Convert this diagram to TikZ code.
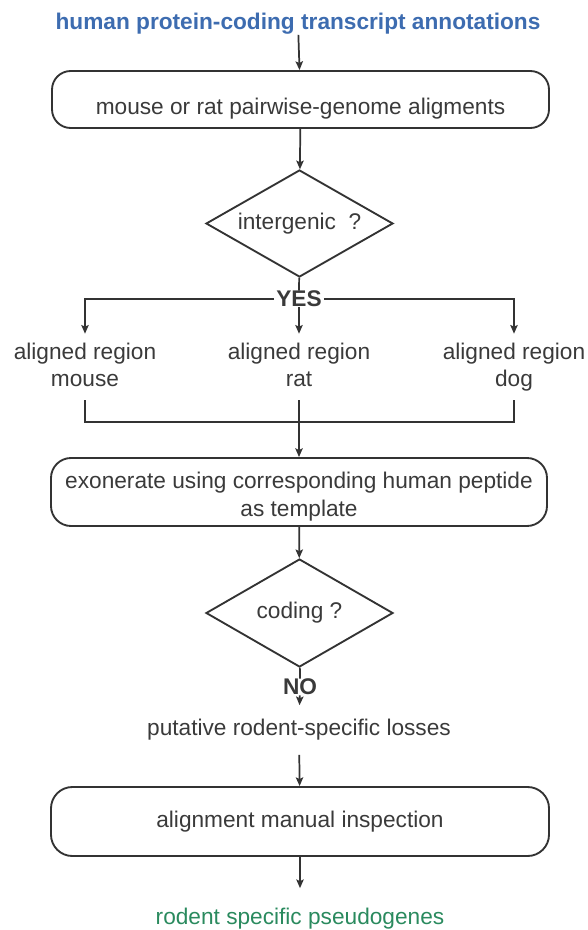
\documentclass[tikz,border=0pt]{standalone}
\usepackage{fontspec}
\setmainfont{Liberation Sans}
\usetikzlibrary{shapes.geometric,arrows.meta}

\definecolor{txtgray}{HTML}{3A3A3A}
\definecolor{linegray}{HTML}{333333}
\definecolor{titleblue}{HTML}{3D6CB0}
\definecolor{endgreen}{HTML}{2A8A5E}

\tikzset{
  every node/.style={font=\fontsize{17}{20}\selectfont, text=txtgray},
  plaintext/.style={inner sep=0pt, align=center},
  boldtext/.style={inner sep=0pt, inner xsep=1.5pt, font=\fontsize{17}{20}\selectfont\bfseries},
  box/.style={draw=linegray, line width=1.4pt, rounded corners=14pt, inner sep=0pt, align=center},
  decision/.style={draw=linegray, line width=1.4pt, diamond, aspect=1.75, inner sep=0pt},
  link/.style={draw=linegray, line width=1.3pt},
  flow/.style={link, -{Stealth[length=6.5pt,width=5.5pt,inset=1.2pt]}},
}

\begin{document}
\begin{tikzpicture}[x=0.75pt,y=0.75pt,yscale=-1,xscale=1]
\path[use as bounding box] (0,0) rectangle (587,930);

% Text Node
\draw (298,24) node [boldtext, text=titleblue] (annot) {human protein-coding transcript annotations};
%Shape: Rounded Rectangle [pairwise]
\draw (300.5,99.5) node [box, minimum width=372.75pt, minimum height=42.75pt, text height=22pt, text depth=0pt] (pairwise) {mouse or rat pairwise-genome aligments};
%Shape: Diamond [intergenic]
\draw (299.5,223.5) node [decision, minimum width=140.25pt, minimum height=80.25pt] (intergenic) {intergenic\ \ ?};
% Text Node
\draw (299,299) node [boldtext] (yes) {YES};

% Text Node
\draw (85,367) node [plaintext, minimum height=49.5pt] (mouse) {aligned region\\mouse\vphantom{g}};
% Text Node
\draw (299,367) node [plaintext, minimum height=49.5pt] (rat) {aligned region\\rat\vphantom{g}};
% Text Node
\draw (514,367) node [plaintext, minimum height=49.5pt] (dog) {aligned region\\dog};
\coordinate (merge) at (299,422);

%Shape: Rounded Rectangle [exonerate]
\draw (299,492) node [box, rounded corners=15pt, minimum width=372pt, minimum height=51pt, font=\fontsize{17}{21}\selectfont] (exon) {\rule{0pt}{20pt}exonerate using corresponding human peptide\\as template};
%Shape: Diamond [coding]
\draw (299.5,613) node [decision, minimum width=140.25pt, minimum height=81pt] (coding) {coding ?};
% Text Node
\draw (300,687) node [boldtext] (no) {NO};
% Text Node
\draw (299,730) node [plaintext, minimum height=36.75pt] (losses) {putative rodent-specific losses};
%Shape: Rounded Rectangle [inspection]
\draw (300,821.5) node [box, rounded corners=16pt, minimum width=373.5pt, minimum height=51.75pt] (inspect) {alignment manual inspection};
% Text Node
\draw (300,919) node [plaintext, text=endgreen] (pseudo) {rodent specific pseudogenes};

% Connectors
\draw [flow] (annot) -- (pairwise);
\draw [flow] (pairwise) -- (intergenic);
\draw [link] (intergenic) -- (yes);
\draw [flow] (yes) -- (rat);
\draw [flow] (yes) -| (mouse);
\draw [flow] (yes) -| (dog);
\draw [link] (mouse.south) |- (merge) -| (dog.south);
\draw [flow] (rat) -- (exon);
\draw [flow] (exon) -- (coding);
\draw [link] (coding) -- (no);
\draw [flow] (no) -- (losses);
\draw [flow] (losses) -- (inspect);
\draw [flow, shorten >=15pt] (inspect) -- (pseudo);

\end{tikzpicture}
\end{document}
